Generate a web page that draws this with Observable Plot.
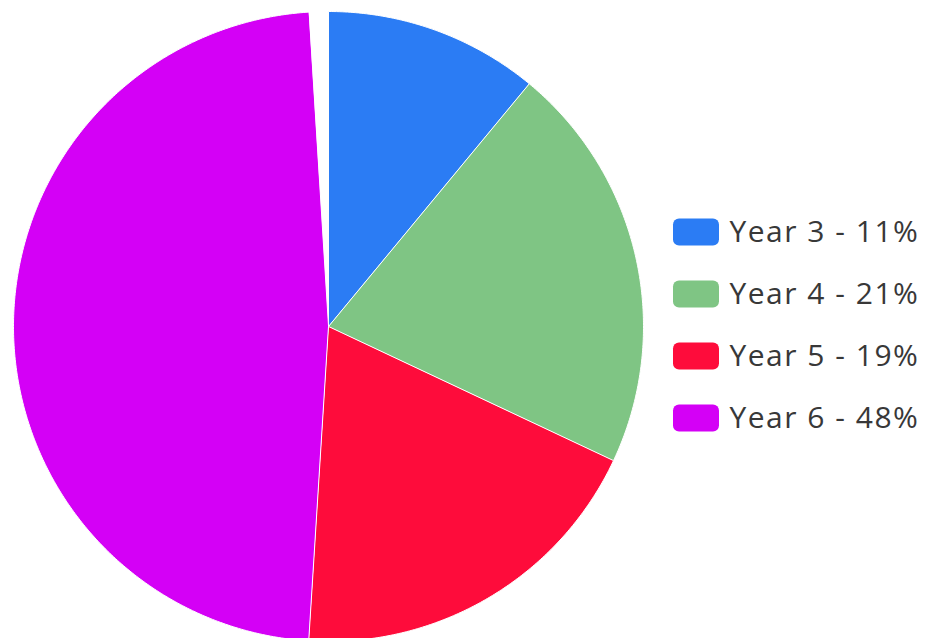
<!DOCTYPE html>
<html>
<head>
<meta charset="utf-8">
<script src="https://cdn.jsdelivr.net/npm/d3@7"></script>
<script src="https://cdn.jsdelivr.net/npm/@observablehq/plot@0.6"></script>
<style>
  html, body { margin: 0; padding: 0; background: #fff; }
  #chart { width: 928px; height: 638px; }
</style>
</head>
<body>
<div id="chart"></div>
<script>
// Data
const categories = ["Year 3", "Year 4", "Year 5", "Year 6"];
const values = [11, 21, 19, 48];
const total = 100; // percentages out of 100 (the remaining 1% is left blank)
const colors = ["#2b7cf4", "#7fc584", "#fe0c3b", "#d400f6"];

// Layout
const W = 928, H = 638;
const cx = 328, cy = 326, R = 315;
const legendX = 673, swatchW = 46, swatchH = 27;
const legendY0 = 232, legendStep = 62;
const textX = 729;

// Build slice polygons with d3.pie (angles from data)
const pie = d3.pie().sort(null).value(d => d.value)
  .startAngle(0).endAngle(2 * Math.PI * d3.sum(values) / total);
const table = categories.map((c, i) => ({cat: c, value: values[i]}));
const arcs = pie(table);
const pts = [];
for (const a of arcs) {
  const cat = a.data.cat;
  pts.push({cat, x: cx, y: cy});
  const n = Math.max(2, Math.ceil((a.endAngle - a.startAngle) / (Math.PI / 360)));
  for (let k = 0; k <= n; k++) {
    const t = a.startAngle + (a.endAngle - a.startAngle) * k / n;
    pts.push({cat, x: cx + R * Math.sin(t), y: cy - R * Math.cos(t)});
  }
}

const legend = categories.map((c, i) => ({cat: c, value: values[i], row: i}));

const chart = Plot.plot({
  width: W,
  height: H,
  margin: 0,
  x: {type: "identity", axis: null},
  y: {type: "identity", axis: null},
  color: {domain: categories, range: colors},
  style: {fontFamily: "'Open Sans', Lato, sans-serif", background: "white", letterSpacing: "1.5px"},
  marks: [
    Plot.line(pts, {x: "x", y: "y", z: "cat", fill: "cat", stroke: "white", strokeWidth: 1, curve: "linear-closed"}),
    Plot.rect(legend, {
      x1: legendX, x2: legendX + swatchW,
      y1: d => legendY0 + d.row * legendStep - swatchH / 2,
      y2: d => legendY0 + d.row * legendStep + swatchH / 2,
      fill: "cat", rx: 6
    }),
    Plot.text(legend, {
      x: textX,
      y: d => legendY0 + d.row * legendStep,
      text: d => `${d.cat} - ${d.value}%`,
      textAnchor: "start",
      fontSize: 30,
      fill: "#383838"
    })
  ]
});
document.getElementById("chart").append(chart);
</script>
</body>
</html>
